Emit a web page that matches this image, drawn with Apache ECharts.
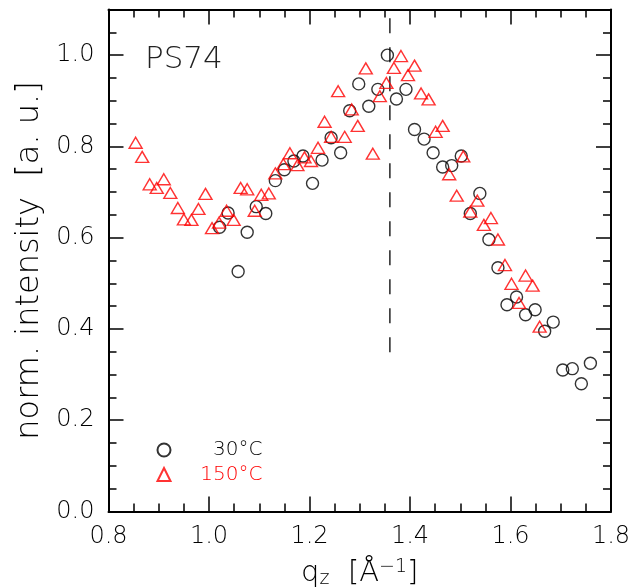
<!DOCTYPE html>
<html>
<head>
<meta charset="utf-8">
<script src="https://cdn.jsdelivr.net/npm/echarts@6/dist/echarts.min.js"></script>
<style>
html,body{margin:0;padding:0;background:#fff;}
#c{width:629px;height:587px;}
</style>
</head>
<body>
<div id="c"></div>
<script>
// ---- data ----
const q30 = [1.021,1.038,1.058,1.076,1.094,1.113,1.132,1.150,1.169,1.187,1.206,1.225,1.243,1.262,1.280,1.298,1.318,1.336,1.355,1.373,1.392,1.409,1.428,1.446,1.465,1.483,1.502,1.520,1.539,1.557,1.575,1.593,1.612,1.630,1.649,1.668,1.685,1.704,1.723,1.741,1.759];
const i30 = [0.623,0.654,0.526,0.612,0.668,0.653,0.725,0.749,0.768,0.779,0.719,0.770,0.819,0.786,0.878,0.937,0.888,0.925,1.000,0.904,0.925,0.837,0.816,0.786,0.755,0.758,0.779,0.653,0.697,0.596,0.534,0.453,0.470,0.431,0.442,0.395,0.415,0.310,0.313,0.280,0.325];
const q150 = [0.854,0.867,0.882,0.896,0.910,0.923,0.938,0.950,0.965,0.979,0.993,1.006,1.020,1.035,1.049,1.063,1.076,1.091,1.104,1.119,1.132,1.148,1.161,1.176,1.190,1.203,1.217,1.230,1.243,1.257,1.270,1.284,1.296,1.312,1.326,1.340,1.353,1.368,1.382,1.396,1.409,1.422,1.437,1.451,1.465,1.478,1.493,1.506,1.520,1.534,1.547,1.561,1.575,1.589,1.602,1.617,1.630,1.644,1.658];
const i150 = [0.808,0.777,0.717,0.709,0.728,0.698,0.665,0.640,0.639,0.663,0.696,0.621,0.633,0.659,0.639,0.709,0.706,0.659,0.694,0.697,0.741,0.761,0.785,0.759,0.776,0.768,0.797,0.854,0.821,0.921,0.821,0.881,0.845,0.971,0.784,0.910,0.939,0.972,0.998,0.956,0.977,0.916,0.903,0.832,0.845,0.739,0.692,0.778,0.657,0.681,0.628,0.643,0.596,0.540,0.499,0.457,0.517,0.495,0.405];
const refLineQ = [1.36, 1.36];
const refLineI = [0.349, 1.10];
const seriesNames = ['30°C', '150°C'];
const sampleLabel = 'PS74';
const xRange = [0.8, 1.8];
const yRange = [0.0, 1.1];

const FONT = 'DejaVu Sans';
const FW = 200;
const chart = echarts.init(document.getElementById('c'), null, {renderer: 'canvas'});

const tickLen = 15, minorLen = 8, axW = 2;
function xAxisDef(pos, labels) {
  return {
    type: 'value', position: pos, min: xRange[0], max: xRange[1], interval: 0.2,
    axisLine: {show: true, onZero: false, lineStyle: {color: '#000', width: axW}},
    axisTick: {show: true, inside: true, length: tickLen, lineStyle: {color: '#000', width: 1.5}},
    minorTick: {show: true, splitNumber: 4, length: minorLen, lineStyle: {color: '#000', width: 1.5}},
    splitLine: {show: false}, minorSplitLine: {show: false},
    axisLabel: {show: labels, fontFamily: FONT, fontWeight: FW, fontSize: 24, color: '#000', margin: 13,
      formatter: v => v.toFixed(1)},
    name: labels ? '{q|q}{sub|z}{q|  [Å}{sup|−1}{q|]}' : '',
    nameLocation: 'middle', nameGap: 46,
    nameTextStyle: {rich: {
      q: {fontFamily: FONT, fontWeight: FW, fontSize: 29, color: '#000'},
      sub: {fontFamily: FONT, fontWeight: FW, fontSize: 19, color: '#000', verticalAlign: 'bottom', padding: [12, 0, 0, 0]},
      sup: {fontFamily: FONT, fontWeight: FW, fontSize: 19, color: '#000', verticalAlign: 'top', padding: [0, 0, 12, 0]}
    }}
  };
}
function yAxisDef(pos, major, labels) {
  return {
    type: 'value', position: pos, min: yRange[0], max: yRange[1], interval: major ? 0.2 : 0.05,
    axisLine: {show: major, onZero: false, lineStyle: {color: '#000', width: axW}},
    axisTick: {show: true, inside: true, length: major ? tickLen : minorLen, lineStyle: {color: '#000', width: 1.5}},
    splitLine: {show: false},
    axisLabel: {show: labels, fontFamily: FONT, fontWeight: FW, fontSize: 24, color: '#000', margin: 14, showMaxLabel: false,
      formatter: v => v.toFixed(1)},
    name: labels ? 'norm. intensity  [a. u.]' : '',
    nameLocation: 'middle', nameGap: 60,
    nameTextStyle: {fontFamily: FONT, fontWeight: FW, fontSize: 32, color: '#000'}
  };
}

const option = {
  animation: false,
  backgroundColor: '#fff',
  grid: {left: 108.5, right: 18, top: 9.5, bottom: 75.5, containLabel: false, outerBoundsMode: 'none'},
  xAxis: [xAxisDef('bottom', true), xAxisDef('top', false)],
  yAxis: [yAxisDef('left', true, true), yAxisDef('left', false, false),
          yAxisDef('right', true, false), yAxisDef('right', false, false)],
  legend: {
    orient: 'vertical', left: 151.5, top: 435, itemWidth: 13, itemHeight: 13, itemGap: 4.5,
    data: [
      {name: seriesNames[0], textStyle: {rich: {a: {width: 87, align: 'right', fontFamily: FONT, fontWeight: FW, fontSize: 20, color: '#000', lineHeight: 16}}}},
      {name: seriesNames[1], textStyle: {rich: {a: {width: 87, align: 'right', fontFamily: FONT, fontWeight: FW, fontSize: 20, color: '#ff0000', lineHeight: 16}}}}
    ],
    formatter: n => '{a|' + n + '}',
    selectedMode: false
  },
  graphic: [{
    type: 'text', left: 145, top: 44,
    style: {text: sampleLabel, font: FW + ' 31px "' + FONT + '"', fill: '#222'}
  }],
  series: [
    {
      name: seriesNames[0], type: 'scatter', symbol: 'circle', symbolSize: 12,
      itemStyle: {color: 'rgba(0,0,0,0)', borderColor: '#000', borderWidth: 1.4},
      data: q30.map((q, i) => [q, i30[i]]), z: 3
    },
    {
      name: seriesNames[1], type: 'scatter', symbol: 'triangle', symbolSize: [13, 11],
      itemStyle: {color: 'rgba(0,0,0,0)', borderColor: '#ff0000', borderWidth: 1.4},
      data: q150.map((q, i) => [q, i150[i]]), z: 4
    },
    {
      name: 'ref', type: 'line', symbol: 'none', silent: true,
      lineStyle: {color: '#000', width: 1.3, type: [15, 14]},
      data: refLineQ.map((q, i) => [q, refLineI[i]]), z: 2
    }
  ]
};
chart.setOption(option);
</script>
</body>
</html>
